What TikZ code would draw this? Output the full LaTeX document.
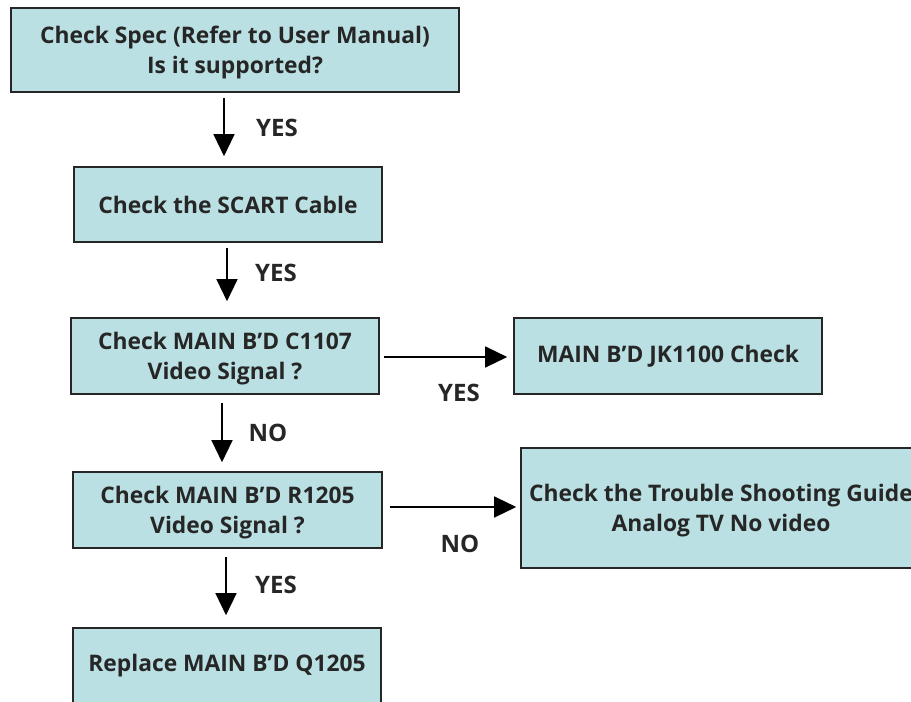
\documentclass[tikz,border=0pt]{standalone}
\usepackage{fontspec}
\setmainfont{Open Sans}
\usepackage{xcolor}
\usepackage{tikz}
\usetikzlibrary{arrows.meta, positioning}
\definecolor{boxfill}{RGB}{186,224,227}
\tikzstyle{stepbox} = [rectangle, draw=black!85, line width=1.6pt, fill=boxfill, align=center, inner sep=0pt, text=black!85, font=\bfseries\fontsize{22.8}{30.5}\selectfont]
\tikzstyle{twoline} = [stepbox, text depth=-3pt]
\tikzstyle{arrow} = [line width=1.3pt, -{Triangle[length=22pt, width=21pt]}]
\tikzstyle{answer} = [text=black!85, font=\bfseries\fontsize{24}{28}\selectfont]

\begin{document}
\begin{tikzpicture}[x=1pt, y=-1pt]
    \useasboundingbox (0,0) rectangle (911,702);
    \clip (0,0) rectangle (911,702);

    % Boxes
    \node[twoline, minimum width=448pt, minimum height=84pt] (spec) at (235,50) {Check Spec (Refer to User Manual)\\Is it supported?};
    \node[stepbox, minimum width=308pt, minimum height=75pt] (scart) at (228,204.5) {Check the SCART Cable};
    \node[twoline, minimum width=308pt, minimum height=76pt] (c1107) at (225,356) {Check MAIN B'D C1107\\Video Signal ?};
    \node[stepbox, minimum width=308pt, minimum height=76pt] (jk1100) at (668,356) {MAIN B'D JK1100 Check};
    \node[twoline, minimum width=309pt, minimum height=76pt] (r1205) at (227.5,510) {Check MAIN B'D R1205\\Video Signal ?};
    \node[twoline, minimum width=400pt, minimum height=120pt] (guide) at (721,508) {Check the Trouble Shooting Guide\\Analog TV No video};
    \node[stepbox, minimum width=308pt, minimum height=76pt] (q1205) at (227,666) {Replace MAIN B'D Q1205};

    % Arrows
    \draw[arrow] ([xshift=-11pt, yshift=-5pt]spec.south) -- ([xshift=-4pt, yshift=10pt]scart.north);
    \draw[arrow] ([xshift=-1pt, yshift=-5pt]scart.south) -- ([xshift=2pt, yshift=16pt]c1107.north);
    \draw[arrow] ([xshift=4pt, yshift=-1pt]c1107.east) -- ([xshift=-6pt, yshift=-1pt]jk1100.west);
    \draw[arrow] ([xshift=-3pt, yshift=-8pt]c1107.south) -- ([xshift=-5.5pt, yshift=9pt]r1205.north);
    \draw[arrow] ([xshift=7pt, yshift=3pt]r1205.east) -- ([xshift=-4pt, yshift=1pt]guide.west);
    \draw[arrow] ([xshift=-1.5pt, yshift=-8pt]r1205.south) -- ([xshift=-1pt, yshift=12pt]q1205.north);

    % Labels
    \node[answer] (yes1) at (277,128) {YES};
    \node[answer] (yes2) at (276,273) {YES};
    \node[answer] (yes3) at (459,393) {YES};
    \node[answer] (no1) at (268,433) {NO};
    \node[answer] (no2) at (460,544) {NO};
    \node[answer] (yes4) at (276,585) {YES};
\end{tikzpicture}
\end{document}
